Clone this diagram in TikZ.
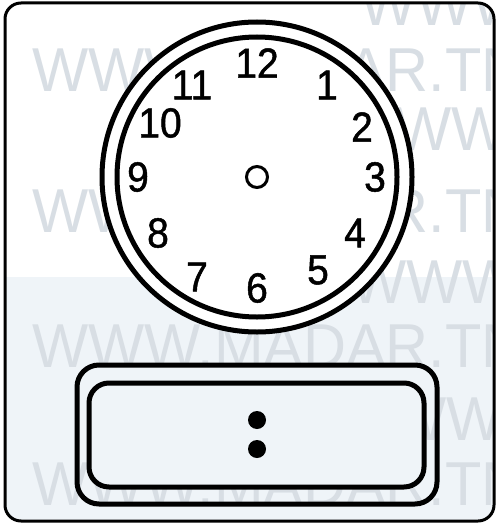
\documentclass[tikz,border=0pt]{standalone}
\usepackage{fontspec}
\setmainfont{Liberation Sans}
\newfontfamily\wmfont{Liberation Sans}
\newfontfamily\digitfont[FakeBold=1.2]{Liberation Sans}
\definecolor{wmgray}{RGB}{216,222,228}
\definecolor{paleblue}{RGB}{239,244,248}
\begin{document}
\begin{tikzpicture}[x=1pt,y=-1pt,
  wm/.style={text=wmgray,font=\wmfont\fontsize{62}{62}\selectfont,inner sep=0pt,anchor=base west,xscale=0.96},
  num/.style={font=\digitfont\fontsize{42}{42}\selectfont,inner sep=0pt,xscale=0.93},
  ring/.style={circle,draw,line width=5pt,inner sep=0pt,fill=white},
  box/.style={draw,line width=5pt,inner sep=0pt},
  dot/.style={circle,fill=black,inner sep=0pt,minimum size=18pt}]
\useasboundingbox (0,0) rectangle (496,524);
\begin{scope}
  \clip[rounded corners=16pt] (5,3) rectangle (494,521);
  \fill[white] (0,0) rectangle (496,524);
  \fill[paleblue] (0,277) rectangle (496,524);
  \node[wm] (wmA) at (360,26) {WWW.MADAR.TN};
  \node[wm] (wmB) at (32,92) {WWW.MADAR.TN};
  \node[wm] (wmC) at (395,150) {WWW.MADAR.TN};
  \node[wm] (wmD) at (32,232) {WWW.MADAR.TN};
  \node[wm] (wmE) at (350,303) {WWW.MADAR.TN};
  \node[wm] (wmF) at (32,367) {WWW.MADAR.TN};
  \node[wm] (wmG) at (390,440) {WWW.MADAR.TN};
  \node[wm] (wmH) at (32,505) {WWW.MADAR.TN};
\end{scope}
% clock
\node[ring,minimum size=310pt] (outer) at (257,177) {};
\node[ring,minimum size=280pt] (inner) at (257,177) {};
\node[circle,draw,line width=3pt,minimum size=21pt,inner sep=0pt] (hub) at (257,177) {};
\node[num] (n12) at (257,63) {12};
\node[num] (n1) at (327,85) {1};
\node[num] (n2) at (362,127) {2};
\node[num] (n3) at (375,177) {3};
\node[num] (n4) at (355,233) {4};
\node[num] (n5) at (318,270) {5};
\node[num] (n6) at (257,288) {6};
\node[num] (n7) at (197,277) {7};
\node[num] (n8) at (158,233) {8};
\node[num] (n9) at (138,177) {9};
\node[num] (n10) at (160,123) {10};
\node[num] (n11) at (192,85) {11};
% digital box
\node[box,rounded corners=22pt,minimum width=360pt,minimum height=139pt] (outerbox) at (257,434.5) {};
\node[box,rounded corners=20pt,minimum width=335pt,minimum height=104pt,fill=paleblue] (innerbox) at (256.5,435) {};
\node[dot] (dotA) at (257,420) {};
\node[dot] (dotB) at (257,449) {};
% frame
\draw[line width=3pt,rounded corners=16pt] (5,3) rectangle (494,521);
\end{tikzpicture}
\end{document}
